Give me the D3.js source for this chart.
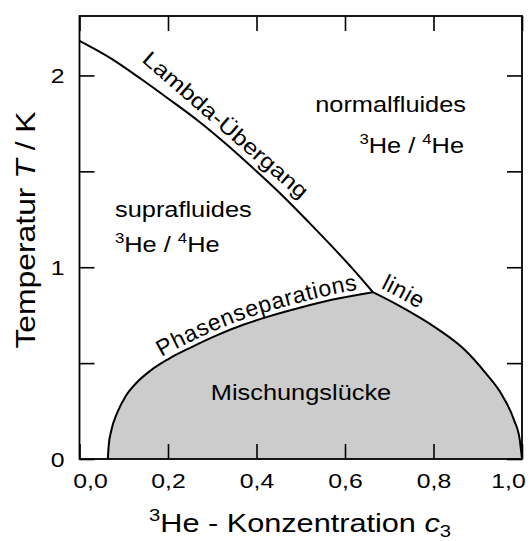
<!DOCTYPE html>
<html>
<head>
<meta charset="utf-8">
<script src="https://cdn.jsdelivr.net/npm/d3@7/dist/d3.min.js"></script>
<style>
  html, body { margin: 0; padding: 0; background: #fff; }
  svg { display: block; font-family: "Liberation Sans", Arial, sans-serif; }
  text { fill: #000; }
</style>
</head>
<body>
<svg id="chart" width="531" height="541"></svg>
<script>
// Phase diagram of liquid 3He/4He mixtures (concentration c3 vs. temperature)

// Axis ticks
const xTicks = [0, 0.2, 0.4, 0.6, 0.8, 1.0];
const yTicks = [0, 0.5, 1, 1.5, 2];
const yLabelTicks = [0, 1, 2];

// Lambda transition line (superfluid / normal fluid)
const lambdaC = [0, 0.07, 0.14, 0.20, 0.27, 0.33, 0.40, 0.46, 0.52, 0.57, 0.62, 0.663];
const lambdaT = [2.18, 2.09, 1.98, 1.88, 1.76, 1.645, 1.50, 1.37, 1.23, 1.11, 0.985, 0.87];

// Phase separation line, 4He-rich branch
const sepLeftC = [0.064, 0.066, 0.072, 0.085, 0.105, 0.13, 0.16, 0.20, 0.25, 0.31, 0.37, 0.43, 0.50, 0.57, 0.663];
const sepLeftT = [0, 0.07, 0.15, 0.24, 0.33, 0.40, 0.46, 0.52, 0.58, 0.645, 0.70, 0.745, 0.79, 0.83, 0.87];

// Phase separation line, 3He-rich branch
const sepRightC = [0.663, 0.724, 0.803, 0.871, 0.916, 0.955, 0.982, 0.995, 1.0];
const sepRightT = [0.87, 0.797, 0.6875, 0.568, 0.453, 0.333, 0.203, 0.099, 0];

const zip = (cs, ts) => cs.map((c, i) => ({ c, T: ts[i] }));
const lambdaLine = zip(lambdaC, lambdaT);
const sepLeft = zip(sepLeftC, sepLeftT);
const sepRight = zip(sepRightC, sepRightT);

const W = 531, H = 541;
const margin = { left: 79.5, right: 9, top: 16, bottom: 82 };
const x = d3.scaleLinear().domain([0, 1]).range([margin.left, W - margin.right]);
const y = d3.scaleLinear().domain([0, 2.31]).range([H - margin.bottom, margin.top]);

const svg = d3.select("#chart");
const SX = 1.18; // horizontal stretch of the lettering

// Text made of plain / superscript / subscript / italic parts
function richText(g, parts, fs, anchor) {
  const t = g.append("text").attr("font-size", fs).attr("text-anchor", anchor || "start");
  let shift = 0;
  parts.forEach(p => {
    const s = t.append("tspan").text(p.t);
    const target = p.sup ? -0.42 * fs : p.sub ? 0.2 * fs : 0;
    if (target !== shift) { s.attr("dy", target - shift); shift = target; }
    if (p.sup || p.sub) s.attr("font-size", fs * 0.66);
    if (p.it) s.attr("font-style", "italic");
  });
  return t;
}
function placed(px, py, extra) {
  return svg.append("g").attr("transform", `translate(${px},${py}) ${extra || ""} scale(${SX},1)`);
}

const line = d3.line().x(d => x(d.c)).y(d => y(d.T)).curve(d3.curveMonotoneX);

// Miscibility gap (shaded)
const gapPath = line(sepLeft) + line(sepRight).replace(/^M/, "L") + "Z";
svg.append("path").attr("d", gapPath).attr("fill", "#cccccc").attr("stroke", "none");

// Curves
svg.append("path").attr("id", "lambdaPath").attr("d", line(lambdaLine))
  .attr("fill", "none").attr("stroke", "#000").attr("stroke-width", 2);
svg.append("path").attr("id", "sepLeftPath").attr("d", line(sepLeft))
  .attr("fill", "none").attr("stroke", "#000").attr("stroke-width", 2);
svg.append("path").attr("id", "sepRightPath").attr("d", line(sepRight))
  .attr("fill", "none").attr("stroke", "#000").attr("stroke-width", 2);

// Axes with inward ticks on all four sides
const fmt = d => d.toFixed(1).replace(".", ",");
const tickLen = 15;
const axB = svg.append("g").attr("transform", `translate(0,${y(0)})`)
  .call(d3.axisBottom(x).tickValues(xTicks).tickSizeInner(-tickLen).tickSizeOuter(0).tickFormat(fmt));
const axT = svg.append("g").attr("transform", `translate(0,${y.range()[1]})`)
  .call(d3.axisTop(x).tickValues(xTicks).tickSizeInner(-tickLen).tickSizeOuter(0).tickFormat(""));
const axL = svg.append("g").attr("transform", `translate(${x(0)},0)`)
  .call(d3.axisLeft(y).tickValues(yTicks).tickSizeInner(-tickLen).tickSizeOuter(0)
    .tickFormat(d => yLabelTicks.includes(d) ? d3.format("d")(d) : ""));
const axR = svg.append("g").attr("transform", `translate(${x(1)},0)`)
  .call(d3.axisRight(y).tickValues(yTicks).tickSizeInner(-tickLen).tickSizeOuter(0).tickFormat(""));

[axB, axT, axL, axR].forEach(a => {
  a.select(".domain").remove();
  a.selectAll(".tick line").attr("stroke", "#000").attr("stroke-width", 1.6);
  a.attr("font-family", null).attr("font-size", null);
});

const tickFs = 21;
axB.selectAll(".tick text")
  .attr("font-size", tickFs).attr("y", null).attr("dy", null)
  .attr("transform", (d, i) => {
    const shift = i === 0 ? 10.5 : (i === xTicks.length - 1 ? -14 : 0);
    return `translate(${shift},29) scale(${SX},1)`;
  });
axL.selectAll(".tick text")
  .attr("font-size", tickFs).attr("x", null).attr("dy", null)
  .attr("transform", `translate(-15,7.5) scale(${SX},1)`);

// Plot frame
svg.append("rect")
  .attr("x", x(0)).attr("y", y.range()[1])
  .attr("width", x(1) - x(0)).attr("height", y(0) - y.range()[1])
  .attr("fill", "none").attr("stroke", "#000").attr("stroke-width", 1.8);

// Axis titles
richText(placed(300, 532), [
  { t: "3", sup: true }, { t: "He - Konzentration " }, { t: "c", it: true }, { t: "3", sub: true }
], 26, "middle");
richText(placed(35, 230, "rotate(-90)"), [
  { t: "Temperatur " }, { t: "T", it: true }, { t: " / K" }
], 27, "middle");

// Region labels
const regFs = 21.5;
richText(placed(115, 217), [{ t: "suprafluides" }], regFs);
richText(placed(115, 252), [{ t: "3", sup: true }, { t: "He / " }, { t: "4", sup: true }, { t: "He" }], regFs);
richText(placed(466, 112), [{ t: "normalfluides" }], regFs, "end");
richText(placed(464, 153), [{ t: "3", sup: true }, { t: "He / " }, { t: "4", sup: true }, { t: "He" }], regFs, "end");
richText(placed(301, 400), [{ t: "Mischungslücke" }], regFs, "middle");

// Line labels
richText(placed(141, 61, "rotate(41)"), [{ t: "Lambda-Übergang" }], regFs);

const leftLen = document.getElementById("sepLeftPath").getTotalLength();
svg.append("text").attr("font-size", 23).attr("letter-spacing", 0.6).attr("dy", -5)
  .append("textPath").attr("href", "#sepLeftPath")
  .attr("startOffset", leftLen - 14).attr("text-anchor", "end")
  .text("Phasenseparations");
svg.append("text").attr("font-size", 23).attr("letter-spacing", 0.6).attr("dy", -7)
  .append("textPath").attr("href", "#sepRightPath")
  .attr("startOffset", 5)
  .text("linie");
</script>
</body>
</html>
